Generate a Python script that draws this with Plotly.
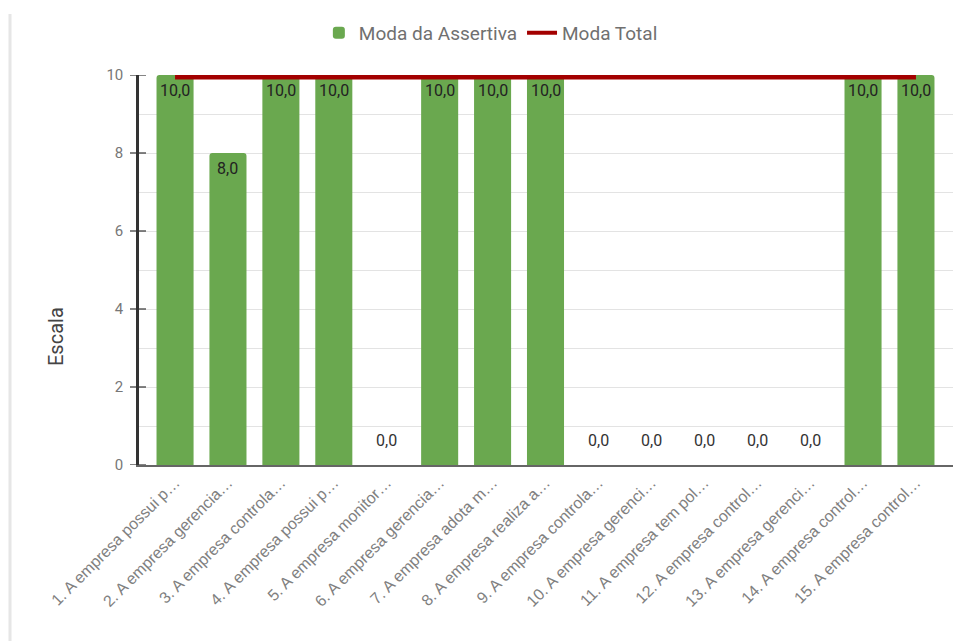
import plotly.graph_objects as go

# Assertivas avaliadas (rótulos abreviados como aparecem no eixo)
categorias = [
    "1. A empresa possui p…",
    "2. A empresa gerencia…",
    "3. A empresa controla…",
    "4. A empresa possui p…",
    "5. A empresa monitor…",
    "6. A empresa gerencia…",
    "7. A empresa adota m…",
    "8. A empresa realiza a…",
    "9. A empresa controla…",
    "10. A empresa gerenci…",
    "11. A empresa tem pol…",
    "12. A empresa control…",
    "13. A empresa gerenci…",
    "14. A empresa control…",
    "15. A empresa control…",
]
moda_assertiva = [10, 8, 10, 10, 0, 10, 10, 10, 0, 0, 0, 0, 0, 10, 10]
moda_total = [10] * len(categorias)
y_ticks = [0, 2, 4, 6, 8, 10]

VERDE = "#6aa84f"
VERMELHO = "#a30000"
EIXO = "#333333"

fig = go.Figure()

fig.add_trace(go.Bar(
    x=categorias,
    y=moda_assertiva,
    name="Moda da Assertiva",
    marker=dict(color=VERDE, cornerradius=3, line=dict(width=0)),
    width=0.7,
    cliponaxis=False,
))

# Linha de referência (a metade superior fica recortada pela área do gráfico)
fig.add_trace(go.Scatter(
    x=categorias,
    y=moda_total,
    name="Moda Total",
    mode="lines",
    line=dict(color=VERMELHO, width=9),
    showlegend=False,
))
# Entrada de legenda da linha, com traço mais fino
fig.add_trace(go.Scatter(
    x=[None], y=[None],
    name="Moda Total",
    mode="lines",
    line=dict(color=VERMELHO, width=4),
))

# Rótulos de valor: dentro do topo da barra, ou acima da base quando zero
def fmt(v):
    return f"{v:.1f}".replace(".", ",")

annotations = []
for cat, v in zip(categorias, moda_assertiva):
    if v > 0:
        annotations.append(dict(
            x=cat, y=v, xref="x", yref="y", text=fmt(v), showarrow=False,
            yanchor="top", yshift=-4,
            font=dict(family="Roboto, Arial, sans-serif", size=16, color="#222222"),
        ))
    else:
        annotations.append(dict(
            x=cat, y=v, xref="x", yref="y", text=fmt(v), showarrow=False,
            yanchor="bottom", yshift=13, bgcolor="white", borderpad=1,
            font=dict(family="Roboto, Arial, sans-serif", size=16, color="#333333"),
        ))

L, R, T, B = 138, 19, 75, 176
W, H = 972, 641
pw = W - L - R
ph = H - T - B


def px_to_paper_x(px):
    return (px - L) / pw


def px_to_paper_y(py):
    return (H - B - py) / ph


# Título do eixo Y
annotations.append(dict(
    text="Escala", xref="paper", yref="paper",
    x=px_to_paper_x(56), y=px_to_paper_y(337),
    showarrow=False, textangle=-90, xanchor="center", yanchor="middle",
    font=dict(family="Roboto, Arial, sans-serif", size=20, color="#444444"),
))

# Linha do eixo Y e marcas que o atravessam
shapes = [
    dict(type="line", xref="paper", yref="paper",
         x0=0, x1=0, y0=0, y1=1, layer="above",
         line=dict(color=EIXO, width=2)),
]
for t in y_ticks:
    shapes.append(dict(
        type="line", xref="x domain", yref="y", xsizemode="pixel", xanchor=0,
        x0=-8, x1=8, y0=t, y1=t, layer="above",
        line=dict(color=EIXO, width=1.2),
    ))
# borda lateral do cartão
shapes.append(dict(
    type="line", xref="paper", yref="paper",
    x0=px_to_paper_x(10), x1=px_to_paper_x(10),
    y0=px_to_paper_y(H), y1=px_to_paper_y(14),
    line=dict(color="#e6e6e6", width=3),
))

fig.update_layout(
    width=W, height=H,
    margin=dict(l=L, r=R, t=T, b=B),
    plot_bgcolor="white", paper_bgcolor="white",
    font=dict(family="Roboto, Arial, sans-serif", color="#666666"),
    showlegend=True,
    legend=dict(
        orientation="h", xref="container", yref="container",
        x=0.505, xanchor="center", y=1 - 33 / H, yanchor="middle",
        font=dict(size=19, color="#707070"),
        itemwidth=30,
    ),
    xaxis=dict(
        range=[-0.7, len(categorias) - 0.3],
        tickangle=-45,
        tickfont=dict(family="Liberation Sans, Arial, sans-serif", size=16, color="#808080"),
        showline=True, linecolor="#666666", linewidth=2,
        showgrid=False, ticks="", zeroline=False,
    ),
    yaxis=dict(
        range=[0, 10],
        tickvals=y_ticks,
        ticks="outside", ticklen=10, tickcolor="rgba(0,0,0,0)",
        tickfont=dict(size=15, color="#777777"),
        showline=True, linecolor=EIXO, linewidth=1.5,
        showgrid=True, gridcolor="#e3e3e3", gridwidth=1,
        minor=dict(dtick=1, showgrid=True, gridcolor="#e3e3e3", ticks=""),
        zeroline=False,
    ),
    annotations=annotations,
    shapes=shapes,
)

fig.write_html("out.html")
